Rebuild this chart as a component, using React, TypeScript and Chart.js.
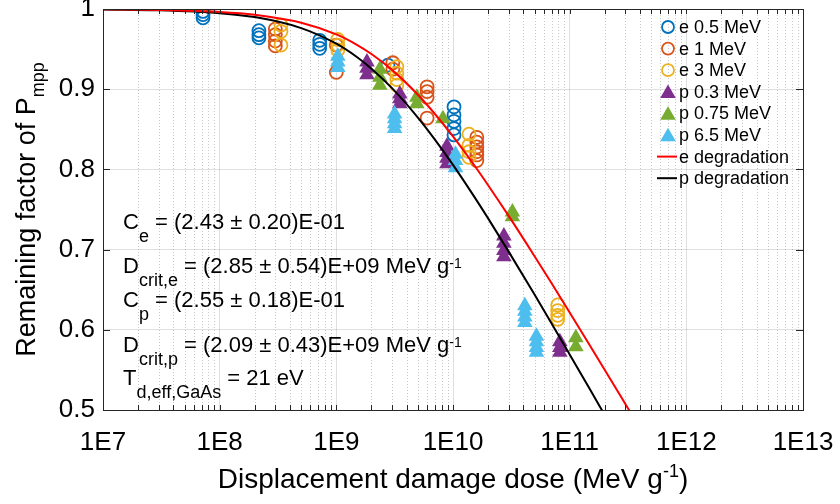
import React, { useEffect, useRef } from 'react';
import { Chart, registerables } from 'chart.js';

Chart.register(...registerables);

const FONT = "'Liberation Sans', Arial, Helvetica, sans-serif";

// Axis ticks
const xTickValues = [1e7, 1e8, 1e9, 1e10, 1e11, 1e12, 1e13];
const xTickLabels = ['1E7', '1E8', '1E9', '1E10', '1E11', '1E12', '1E13'];
const yTickLabels = ['0.5', '0.6', '0.7', '0.8', '0.9', '1'];

// Series names
const seriesNames = ['e 0.5 MeV', 'e 1 MeV', 'e 3 MeV', 'p 0.3 MeV', 'p 0.75 MeV', 'p 6.5 MeV', 'e degradation', 'p degradation'];
const seriesColors = ['#0072BD', '#D95319', '#EDB120', '#7E2F8E', '#77AC30', '#4DBEEE', '#FF0000', '#000000'];

// e 0.5 MeV
const e05Dose = [7.2e7, 7.2e7, 7.2e7, 2.17e8, 2.17e8, 2.17e8, 7.2e8, 7.2e8, 7.2e8, 2.77e9, 1.02e10, 1.02e10, 1.02e10, 1.02e10, 1.02e10];
const e05Factor = [0.997, 0.993, 0.989, 0.973, 0.968, 0.964, 0.961, 0.956, 0.951, 0.930, 0.878, 0.868, 0.860, 0.851, 0.843];

// e 1 MeV
const e1Dose = [3.0e8, 3.0e8, 3.0e8, 3.0e8, 1.0e9, 1.0e9, 3.05e9, 3.05e9, 6.0e9, 6.0e9, 6.0e9, 6.0e9, 1.6e10, 1.6e10, 1.6e10, 1.6e10, 1.6e10, 1.6e10];
const e1Factor = [0.975, 0.968, 0.960, 0.954, 0.955, 0.921, 0.933, 0.925, 0.903, 0.897, 0.890, 0.864, 0.840, 0.834, 0.828, 0.822, 0.818, 0.811];

// e 3 MeV
const e3Dose = [3.35e8, 3.35e8, 3.35e8, 1.03e9, 1.03e9, 1.03e9, 3.3e9, 3.3e9, 3.3e9, 3.3e9, 1.37e10, 1.37e10, 1.37e10, 1.37e10, 7.9e10, 7.9e10, 7.9e10, 7.9e10];
const e3Factor = [0.980, 0.972, 0.955, 0.962, 0.955, 0.949, 0.928, 0.920, 0.912, 0.905, 0.844, 0.830, 0.822, 0.815, 0.631, 0.624, 0.618, 0.613];

// p 0.3 MeV
const p03Dose = [1.83e9, 1.83e9, 1.83e9, 3.5e9, 3.5e9, 3.5e9, 8.87e9, 8.87e9, 8.87e9, 8.87e9, 2.73e10, 2.73e10, 2.73e10, 2.73e10, 8.24e10, 8.24e10, 8.24e10];
const p03Factor = [0.934, 0.926, 0.918, 0.894, 0.888, 0.882, 0.829, 0.821, 0.814, 0.807, 0.717, 0.708, 0.699, 0.691, 0.585, 0.578, 0.572];

// p 0.75 MeV
const p075Dose = [2.36e9, 2.36e9, 2.36e9, 4.9e9, 4.9e9, 8.2e9, 3.23e10, 3.23e10, 1.13e11, 1.13e11];
const p075Factor = [0.925, 0.915, 0.905, 0.890, 0.882, 0.863, 0.747, 0.741, 0.590, 0.579];

// p 6.5 MeV
const p65Dose = [1.03e9, 1.03e9, 1.03e9, 3.16e9, 3.16e9, 3.16e9, 3.16e9, 1.05e10, 1.05e10, 1.05e10, 4.13e10, 4.13e10, 4.13e10, 4.13e10, 5.19e10, 5.19e10, 5.19e10, 5.19e10];
const p65Factor = [0.941, 0.934, 0.927, 0.869, 0.863, 0.857, 0.851, 0.819, 0.811, 0.802, 0.630, 0.623, 0.616, 0.609, 0.592, 0.585, 0.578, 0.572];

// e degradation curve (read values)
const eCurveDose = [1e7, 3e7, 1e8, 2e8, 5e8, 1e9, 1.5e9, 2e9, 3e9, 5e9, 7e9, 1e10, 1.5e10, 2e10, 3e10, 5e10, 7e10, 1e11, 1.5e11, 2e11, 3e11, 4e11];
const eCurveFactor = [0.9996, 0.9989, 0.9964, 0.9928, 0.9829, 0.9683, 0.9554, 0.9439, 0.9241, 0.8931, 0.8691, 0.8411, 0.8064, 0.7803, 0.7420, 0.6918, 0.6580, 0.6216, 0.5797, 0.5499, 0.5076, 0.4775];

// p degradation curve (read values)
const pCurveDose = [1e7, 3e7, 1e8, 2e8, 5e8, 1e9, 1.5e9, 2e9, 3e9, 5e9, 7e9, 1e10, 1.5e10, 2e10, 3e10, 5e10, 7e10, 1e11, 1.5e11, 2e11];
const pCurveFactor = [0.9995, 0.9984, 0.9948, 0.9899, 0.9762, 0.9567, 0.9401, 0.9256, 0.9014, 0.8647, 0.8372, 0.8056, 0.7673, 0.7389, 0.6975, 0.6439, 0.6079, 0.5693, 0.5252, 0.4937];

// Fit annotation text
type Part = { t: string; sub?: boolean; sup?: boolean };
const annotationLines: Part[][] = [
  [{ t: 'C' }, { t: 'e', sub: true }, { t: ' = (2.43 \u00B1 0.20)E-01' }],
  [{ t: 'D' }, { t: 'crit,e', sub: true }, { t: ' = (2.85 \u00B1 0.54)E+09 MeV g' }, { t: '-1', sup: true }],
  [{ t: 'C' }, { t: 'p', sub: true }, { t: ' = (2.55 \u00B1 0.18)E-01' }],
  [{ t: 'D' }, { t: 'crit,p', sub: true }, { t: ' = (2.09 \u00B1 0.43)E+09 MeV g' }, { t: '-1', sup: true }],
  [{ t: 'T' }, { t: 'd,eff,GaAs', sub: true }, { t: ' = 21 eV' }],
];
const annotationBaselines = [229, 273, 307, 352, 385];

const xTitle: Part[] = [{ t: 'Displacement damage dose (MeV g' }, { t: '-1', sup: true }, { t: ')' }];
const yTitle: Part[] = [{ t: 'Remaining factor of P' }, { t: 'mpp', sub: true }];

const toXY = (xs: number[], ys: number[]) => xs.map((x, i) => ({ x, y: ys[i] }));

function drawParts(ctx: CanvasRenderingContext2D, x: number, y: number, parts: Part[], size: number, subSize: number, subDrop: number, supSize: number, supRise: number, measureOnly = false) {
  let cx = x;
  for (const p of parts) {
    const s = p.sub ? subSize : p.sup ? supSize : size;
    ctx.font = `${s}px ${FONT}`;
    const dy = p.sub ? subDrop : p.sup ? -supRise : 0;
    if (!measureOnly) ctx.fillText(p.t, cx, y + dy);
    cx += ctx.measureText(p.t).width;
  }
  return cx - x;
}

const extrasPlugin = {
  id: 'extras',
  beforeDatasetsDraw(chart: any) {
    const { ctx, chartArea: a, scales } = chart;
    const xs = scales.x;
    ctx.save();
    ctx.strokeStyle = 'rgba(38,38,38,0.25)';
    ctx.lineWidth = 1;
    ctx.setLineDash([1, 2]);
    for (let e = 7; e < 13; e++) {
      for (let m = 2; m <= 9; m++) {
        const px = Math.round(xs.getPixelForValue(m * Math.pow(10, e))) + 0.5;
        ctx.beginPath();
        ctx.moveTo(px, a.top);
        ctx.lineTo(px, a.bottom);
        ctx.stroke();
      }
    }
    ctx.restore();
  },
  afterDraw(chart: any) {
    const { ctx, chartArea: a, scales } = chart;
    const xs = scales.x;
    const ys = scales.y;
    ctx.save();
    // box
    ctx.strokeStyle = '#262626';
    ctx.lineWidth = 1;
    ctx.setLineDash([]);
    ctx.strokeRect(Math.round(a.left) + 0.5, Math.round(a.top) + 0.5, Math.round(a.right - a.left), Math.round(a.bottom - a.top));
    // inner ticks x (major + minor)
    ctx.beginPath();
    for (let e = 7; e <= 13; e++) {
      for (let m = 1; m <= 9; m++) {
        const v = m * Math.pow(10, e);
        if (v > 1e13) break;
        const px = Math.round(xs.getPixelForValue(v)) + 0.5;
        const len = 5;
        ctx.moveTo(px, a.bottom);
        ctx.lineTo(px, a.bottom - len);
        ctx.moveTo(px, a.top);
        ctx.lineTo(px, a.top + len);
      }
    }
    for (const t of ys.ticks) {
      const py = Math.round(ys.getPixelForValue(t.value)) + 0.5;
      ctx.moveTo(a.left, py);
      ctx.lineTo(a.left + 7, py);
      ctx.moveTo(a.right, py);
      ctx.lineTo(a.right - 7, py);
    }
    ctx.stroke();

    // legend
    const ds = chart.data.datasets;
    const lx = 668;
    ctx.textBaseline = 'middle';
    ctx.textAlign = 'left';
    ds.forEach((d: any, i: number) => {
      const ly = 27 + i * 21.6;
      ctx.save();
      if (d.showLine) {
        ctx.strokeStyle = d.borderColor;
        ctx.lineWidth = 2;
        ctx.beginPath();
        ctx.moveTo(657, ly);
        ctx.lineTo(677, ly);
        ctx.stroke();
      } else if (d.pointStyle === 'circle') {
        ctx.strokeStyle = d.borderColor;
        ctx.lineWidth = 1.8;
        ctx.beginPath();
        ctx.arc(lx, ly, 6, 0, Math.PI * 2);
        ctx.stroke();
      } else {
        const r = 9;
        ctx.fillStyle = d.backgroundColor;
        ctx.beginPath();
        ctx.moveTo(lx, ly - r * 0.8);
        ctx.lineTo(lx + r * 0.866, ly + r * 0.7);
        ctx.lineTo(lx - r * 0.866, ly + r * 0.7);
        ctx.closePath();
        ctx.fill();
      }
      ctx.restore();
      ctx.fillStyle = '#000';
      ctx.font = `18px ${FONT}`;
      ctx.fillText(d.label, 679, ly + 1);
    });

    // annotations
    ctx.textBaseline = 'alphabetic';
    ctx.fillStyle = '#000';
    annotationLines.forEach((parts, i) => {
      drawParts(ctx, 123, annotationBaselines[i], parts, 22, 18, 13, 14, 5);
    });

    // x title
    const xw = drawParts(ctx, 0, 0, xTitle, 28, 18, 8, 18, 11, true);
    drawParts(ctx, (a.left + a.right) / 2 - xw / 2, 488, xTitle, 28, 18, 8, 18, 11);

    // y title
    const yw = drawParts(ctx, 0, 0, yTitle, 27, 18, 9, 18, 10, true);
    ctx.translate(35, (a.top + a.bottom) / 2 + yw / 2);
    ctx.rotate(-Math.PI / 2);
    drawParts(ctx, 0, 0, yTitle, 27, 18, 9, 18, 10);
    ctx.restore();
  },
};

export default function App() {
  const canvasRef = useRef<HTMLCanvasElement | null>(null);

  useEffect(() => {
    const canvas = canvasRef.current;
    if (!canvas) return;
    const scatterSets = [
      [e05Dose, e05Factor, 'circle'],
      [e1Dose, e1Factor, 'circle'],
      [e3Dose, e3Factor, 'circle'],
      [p03Dose, p03Factor, 'triangle'],
      [p075Dose, p075Factor, 'triangle'],
      [p65Dose, p65Factor, 'triangle'],
    ] as [number[], number[], string][];

    const datasets: any[] = scatterSets.map(([xs, ys, style], i) => {
      const circle = style === 'circle';
      return {
        label: seriesNames[i],
        data: toXY(xs, ys),
        pointStyle: style,
        pointRadius: circle ? 6.5 : 9,
        borderColor: seriesColors[i],
        backgroundColor: circle ? 'rgba(0,0,0,0)' : seriesColors[i],
        pointBorderWidth: circle ? 1.8 : 0,
        borderWidth: circle ? 1.8 : 0,
        showLine: false,
        order: 6 - i,
      };
    });
    datasets.push({
      label: seriesNames[6],
      data: toXY(eCurveDose, eCurveFactor),
      showLine: true,
      borderColor: seriesColors[6],
      backgroundColor: seriesColors[6],
      borderWidth: 2,
      pointRadius: 0,
      cubicInterpolationMode: 'monotone',
      order: 0,
    });
    datasets.push({
      label: seriesNames[7],
      data: toXY(pCurveDose, pCurveFactor),
      showLine: true,
      borderColor: seriesColors[7],
      backgroundColor: seriesColors[7],
      borderWidth: 2,
      pointRadius: 0,
      cubicInterpolationMode: 'monotone',
      order: 0,
    });

    const chart = new Chart(canvas, {
      type: 'scatter',
      data: { datasets },
      options: {
        animation: false,
        responsive: false,
        devicePixelRatio: 1,
        events: [],
        layout: { padding: { left: 0, top: 9, right: 37, bottom: 0 } },
        plugins: {
          legend: { display: false },
          tooltip: { enabled: false },
          title: { display: false },
        },
        scales: {
          x: {
            type: 'logarithmic',
            min: 1e7,
            max: 1e13,
            afterBuildTicks: (s: any) => {
              s.ticks = xTickValues.map((v) => ({ value: v, major: true }));
            },
            afterFit: (s: any) => {
              s.height = 94;
              s.paddingLeft = 0;
              s.paddingRight = 0;
            },
            ticks: {
              autoSkip: false,
              maxRotation: 0,
              padding: 17,
              color: '#000',
              font: { family: FONT, size: 26 },
              callback: (_v: any, i: number) => xTickLabels[i],
            },
            grid: { color: 'rgba(38,38,38,0.15)', lineWidth: 1, drawTicks: false },
            border: { display: true, color: '#262626', width: 1 },
          },
          y: {
            type: 'linear',
            min: 0.5,
            max: 1,
            afterFit: (s: any) => {
              s.width = 103;
              s.paddingTop = 0;
              s.paddingBottom = 0;
            },
            ticks: {
              stepSize: 0.1,
              padding: 8,
              color: '#000',
              font: { family: FONT, size: 26 },
              callback: (_v: any, i: number) => yTickLabels[i],
            },
            grid: { color: 'rgba(38,38,38,0.15)', lineWidth: 1, drawTicks: false },
            border: { display: true, color: '#262626', width: 1 },
          },
        },
      },
      plugins: [extrasPlugin],
    } as any);

    return () => chart.destroy();
  }, []);

  return (
    <div style={{ position: 'absolute', left: 0, top: 0, width: 840, height: 504, background: '#fff' }}>
      <canvas ref={canvasRef} width={840} height={504} />
    </div>
  );
}
